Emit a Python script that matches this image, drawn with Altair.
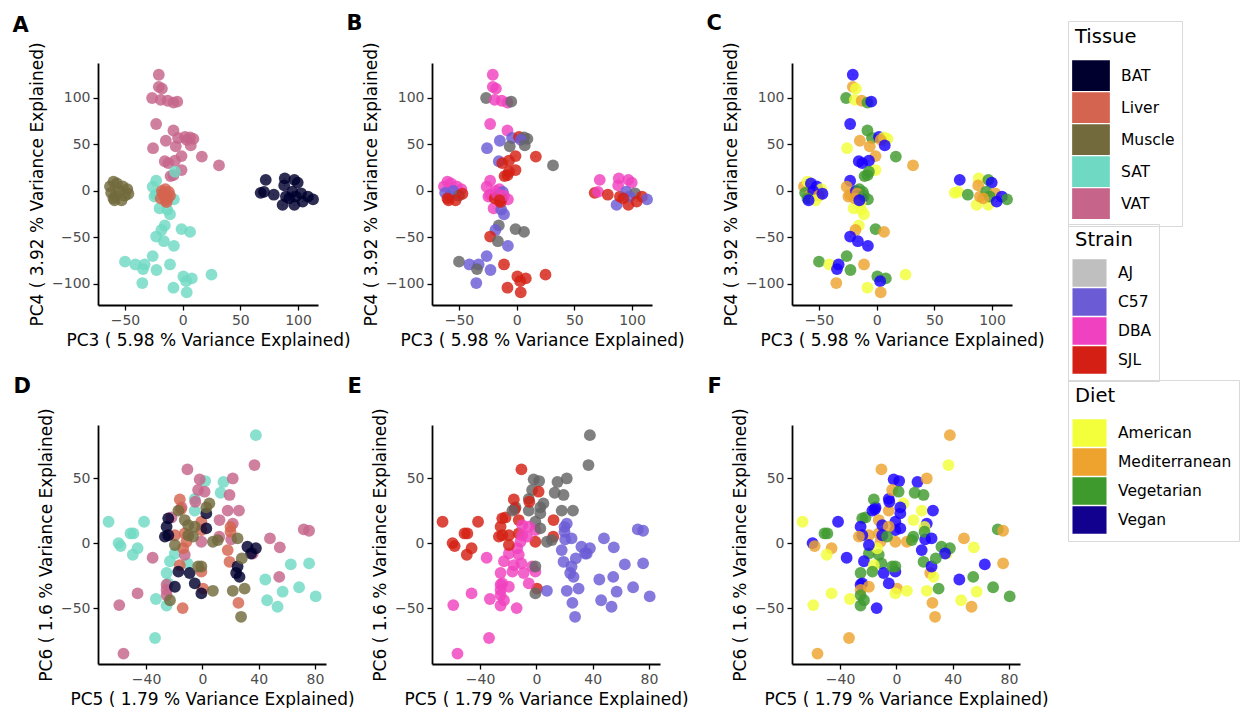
import altair as alt
import pandas as pd

FONT = "DejaVu Sans"

# ---------------- PC3 / PC4 (panels A-C) ----------------
pc3 = [
    # VAT
    -20.7, -20.7, -18, -26.5, -19, -13, -8, -4.7, -23, -8,
    -14.6, -4, 2, 6.4, 9.3, 3.5, -6, 7, -25.7, -1,
    16.6, 31.5, -15.5, -12.5, -6.7, -1, -8, -10.5,
    # SAT
    -23, -26, -23, -24.5, -7.6, -6.7, -20, -13.4, -11, -15.5,
    -18.4, -23, -16.3, -7.6, -1, 6.4, -50, -41, -33, -34.4,
    -26, -22.7, -11, -35, 0.6, 7.9, 3, 25, -8, 3.5,
    # Liver
    -18, -15, -12, -16, -13, -19, -14, -17, -11, -15,
    # Muscle
    -63, -60, -57, -52, -48, -62, -58, -55, -50, -60, -53, -47, -59,
    # BAT
    72, 67.6, 70.5, 79, 86.6, 88.5, 96.8, 99.7, 88, 89.5,
    95, 102.6, 108.5, 113, 96.8, 98, 104, 92.4,
]
pc4 = [
    125, 112, 110, 100, 98, 97, 95, 96, 72, 65,
    54, 57, 58, 57.5, 56, 55, 48, 49, 46, 37.5,
    37, 27.5, 32, 30, 32.5, 22.5, 17, 16,
    11, 4.6, -4, -6, -9, 20.7, -18.6, -20, -25, -37,
    -42, -49, -54, -59, -41, -44, -76, -79, -79, -84,
    -70, -85, -79, -99, -92, -94, -97, -90, -104, -109,
    0, 2, -1, -5, -8, -8, -12, -3, -5, -10,
    5, 10, 8, 5, 2, -2, -5, 0, -5, -8, -10, -3, -10,
    12, -2, -1, -4, -15, 13.6, 12, 9, 6, -6,
    -0.7, -2.5, -6, -9, -15, -6, -11.4, -8,
]
tissue_top = ["VAT"] * 28 + ["SAT"] * 30 + ["Liver"] * 10 + ["Muscle"] * 13 + ["BAT"] * 18
strain_top = [
    "DBA", "DBA", "DBA", "AJ", "DBA", "DBA", "DBA", "AJ", "DBA", "DBA",
    "C57", "C57", "SJL", "AJ", "AJ", "C57", "AJ", "AJ", "C57", "SJL",
    "SJL", "AJ", "C57", "SJL", "SJL", "SJL", "SJL", "SJL",
    "DBA", "DBA", "DBA", "DBA", "DBA", "SJL", "DBA", "C57", "C57", "AJ",
    "C57", "SJL", "AJ", "C57", "AJ", "AJ", "AJ", "C57", "C57", "AJ",
    "C57", "C57", "SJL", "C57", "SJL", "SJL", "SJL", "SJL", "SJL", "SJL",
    "DBA", "DBA", "C57", "C57", "SJL", "SJL", "SJL", "DBA", "DBA", "SJL",
    "DBA", "DBA", "DBA", "DBA", "DBA", "C57", "C57", "C57", "AJ", "SJL", "SJL", "SJL", "SJL",
    "DBA", "SJL", "DBA", "SJL", "C57", "DBA", "DBA", "DBA", "DBA", "SJL",
    "C57", "AJ", "SJL", "C57", "SJL", "C57", "SJL", "SJL",
]
diet_top = [
    "Vegan", "Mediterranean", "American", "Vegetarian", "American", "Mediterranean", "Vegetarian", "Vegan", "Vegan", "Vegetarian",
    "Mediterranean", "Vegetarian", "Vegan", "American", "American", "Mediterranean", "Mediterranean", "Vegan", "American", "Mediterranean",
    "Vegetarian", "Mediterranean", "Vegan", "Vegan", "Vegan", "American", "Vegetarian", "Vegetarian",
    "Vegan", "Mediterranean", "Mediterranean", "Mediterranean", "Vegetarian", "Vegetarian", "American", "American", "American", "American",
    "Mediterranean", "Vegan", "Vegan", "Vegan", "Vegetarian", "Mediterranean", "Vegetarian", "American", "Vegan", "Vegan",
    "Vegetarian", "Vegetarian", "Mediterranean", "Mediterranean", "Vegetarian", "Vegetarian", "Vegan", "American", "American", "Mediterranean",
    "Vegan", "Vegetarian", "Vegetarian", "Vegan", "Vegan", "Mediterranean", "American", "Mediterranean", "Vegetarian", "Vegan",
    "Mediterranean", "American", "Vegan", "Vegan", "American", "Vegetarian", "Mediterranean", "Vegan", "Mediterranean", "Vegetarian", "American", "Vegan", "Vegan",
    "Vegan", "American", "American", "Vegetarian", "American", "American", "Vegetarian", "Vegan", "Mediterranean", "Mediterranean",
    "Vegetarian", "Mediterranean", "Vegan", "Vegetarian", "American", "Vegetarian", "Vegan", "Mediterranean",
]

# ---------------- PC5 / PC6 (panels D-F) ----------------
pc5 = [
    # SAT
    38, -66.6, -41.4, -51, -49, -59.5, -58, -46, -49.4, 2,
    15, 13, -5.4, -5.4, -19.5, -23, -25.4, -24.2, -10.6, -33,
    -25.4, -33.6, 44.7, 46, 57, 53.4, 62.8, 68.7, 75.8, 80.5,
    # VAT
    37, -10.6, -1.9, 21.6, -3, 1.6, 19.3, -5, 18, 26,
    -21.9, 12.2, 21.6, 72, 75.8, 48, 55, 35.8, 12, 20.5,
    -0.7, -35.3, -12.5, 54.6, -46, -25.4, -25.4, -25.4, -59, -56, -14.8,
    # Liver
    -16, -15.3, -0.7, -0.7, -12.5, -11.3, -13.6, -16, 20, 20,
    18, 19.3, -0.7, 0.5, 25.6, -14, -19.5,
    # BAT
    -24.2, -25.4, -24.2, -26.6, 2.8, 2.8, 32, 38, 34.6, 24,
    26.4, -17, -9, -19.5, -5.4, -0.7, 25,
    # Muscle
    5, 2.8, -12.5, -10, -5.4, -10, -6.6, -19.5, 7.5, 11,
    25, -3, -0.7, 7.5, 21.6, 30, 27.5, 28, -23, -17,
]
pc6 = [
    83, 16.4, 16.4, 7.4, 7.4, 0, -2.3, -4, -9, 47.7,
    47, 38.7, 34, 25, -8, -14, -23, -31, -15.6, -43,
    -48, -73, -28, -44, -37.4, -49, -16.4, -34, -15.6, -41,
    60, 56.7, 49, 49.7, 40.8, 39.5, 37, 31.8, 25, 25,
    19.7, 17.7, 15, 10.5, 9.5, 3.6, -3.3, -8, 4.9, 2.8,
    1, -11.3, -9, -26, -38.7, -32, -36, -40, -47.7, -85, 27.4,
    33.6, 26, 16.4, 10, 7.4, 1, -4, -17, 12.5, 8.7,
    -5.4, -14.4, -22, -35, -46, -50, 6,
    19, 12.6, 6, 5, 22.8, 11.3, -2.8, -4, -8, -23,
    -26, -22, -23, -33.6, -31, -38.7, -18,
    30.5, 27.4, 17.7, 13.8, 12.6, 6, 5, -1.5, 1, 2.3,
    3.6, -18, -18, -36.7, -36.7, -35, -56.7, -11.8, -44, 25,
]
tissue_bot = ["SAT"] * 30 + ["VAT"] * 31 + ["Liver"] * 17 + ["BAT"] * 17 + ["Muscle"] * 20
strain_bot = [
    "AJ", "SJL", "SJL", "SJL", "SJL", "SJL", "SJL", "SJL", "SJL", "AJ",
    "AJ", "AJ", "AJ", "AJ", "DBA", "DBA", "DBA", "DBA", "DBA", "DBA",
    "DBA", "DBA", "C57", "C57", "C57", "C57", "C57", "C57", "C57", "C57",
    "AJ", "SJL", "AJ", "AJ", "AJ", "SJL", "AJ", "SJL", "AJ", "AJ",
    "SJL", "SJL", "C57", "C57", "C57", "C57", "C57", "C57", "SJL", "C57",
    "SJL", "DBA", "DBA", "C57", "DBA", "DBA", "DBA", "DBA", "DBA", "DBA", "AJ",
    "SJL", "SJL", "AJ", "DBA", "SJL", "DBA", "DBA", "DBA", "C57", "C57",
    "C57", "C57", "DBA", "SJL", "C57", "DBA", "SJL",
    "SJL", "SJL", "SJL", "SJL", "AJ", "AJ", "C57", "C57", "C57", "C57",
    "C57", "DBA", "DBA", "DBA", "DBA", "AJ", "C57",
    "AJ", "AJ", "SJL", "DBA", "DBA", "DBA", "DBA", "SJL", "AJ", "AJ",
    "C57", "DBA", "AJ", "C57", "C57", "C57", "C57", "C57", "DBA", "AJ",
]
diet_bot = [
    "Mediterranean", "American", "Vegan", "Vegetarian", "Vegetarian", "Vegan", "Mediterranean", "Mediterranean", "American", "Vegan",
    "Vegan", "Vegetarian", "Vegan", "Mediterranean", "Vegetarian", "Vegan", "Vegetarian", "Vegan", "Vegetarian", "American",
    "Vegetarian", "Mediterranean", "Vegan", "American", "American", "Mediterranean", "Vegan", "Vegetarian", "Mediterranean", "Vegetarian",
    "American", "Mediterranean", "Vegan", "Mediterranean", "Mediterranean", "Vegetarian", "Vegetarian", "Vegan", "American", "Vegan",
    "Vegetarian", "American", "Vegan", "Vegetarian", "Mediterranean", "Mediterranean", "American", "American", "Vegetarian", "Vegan",
    "Mediterranean", "Vegan", "Vegetarian", "Vegetarian", "American", "Vegan", "Mediterranean", "Vegetarian", "American", "Mediterranean", "Vegan",
    "Vegetarian", "Vegan", "Vegan", "Vegan", "Mediterranean", "Mediterranean", "American", "American", "American", "Vegetarian",
    "Vegan", "Vegetarian", "Vegan", "Mediterranean", "Mediterranean", "Vegan", "Mediterranean",
    "Vegetarian", "Vegan", "Vegan", "Mediterranean", "Vegan", "Vegan", "Vegetarian", "Vegetarian", "Vegan", "Mediterranean",
    "American", "Vegetarian", "Vegan", "Mediterranean", "Vegan", "American", "Vegan",
    "American", "Vegan", "Mediterranean", "Vegan", "Mediterranean", "Vegan", "Vegetarian", "Vegan", "Mediterranean", "Vegetarian",
    "Vegan", "Vegetarian", "Vegetarian", "American", "American", "Vegetarian", "Mediterranean", "Vegetarian", "Vegetarian", "Vegan",
]

# ---------------- categories & colours ----------------
tissue_levels = ["BAT", "Liver", "Muscle", "SAT", "VAT"]
tissue_colors = ["#00002E", "#D4644F", "#726A3D", "#6FD9C3", "#C6648A"]
strain_levels = ["AJ", "C57", "DBA", "SJL"]
strain_legend_colors = ["#BFBFBF", "#6B5CD6", "#F042C0", "#D42014"]
strain_point_colors = ["#646464", "#6B5CD6", "#F042C0", "#D42014"]
diet_levels = ["American", "Mediterranean", "Vegetarian", "Vegan"]
diet_legend_colors = ["#F2FF3A", "#EDA32E", "#3F9A2E", "#12008F"]
diet_point_colors = ["#F2FF3A", "#EDA32E", "#3F9A2E", "#1800FF"]

top_x_ticks = [-50, 0, 50, 100]
top_y_ticks = [-100, -50, 0, 50, 100]
bot_x_ticks = [-40, 0, 40, 80]
bot_y_ticks = [-50, 0, 50]

top_df = pd.DataFrame({"pc3": pc3, "pc4": pc4, "Tissue": tissue_top,
                       "Strain": strain_top, "Diet": diet_top})
bot_df = pd.DataFrame({"pc5": pc5, "pc6": pc6, "Tissue": tissue_bot,
                       "Strain": strain_bot, "Diet": diet_bot})

# legend key: a rectangle 1.19 times wider than high
RECT = "M-1.19,-0.97H1.19V0.97H-1.19Z"
PT_SIZE = 140
PT_OPACITY = 0.82


def axis(title, vals):
    return alt.Axis(title=title, values=vals, grid=False, domainColor="black",
                    domainWidth=1.8, tickColor="black", tickWidth=1.3, tickSize=5,
                    labelColor="#4D4D4D", labelFontSize=14, labelFont=FONT,
                    titleFont=FONT, titleFontSize=17, titleFontWeight="normal",
                    titleColor="black", labelPadding=3, titlePadding=5,
                    labelFlush=False, labelOverlap=False)


def legend(title, lx, ly, size, tpad):
    return alt.Legend(title=title, orient="none", legendX=lx, legendY=ly,
                      symbolType=RECT, symbolSize=size, symbolOpacity=1,
                      symbolStrokeWidth=0, titleFontSize=19.5, titleFont=FONT,
                      titleFontWeight="normal", titleColor="black",
                      labelFontSize=15.5, labelFont=FONT, labelColor="black",
                      labelOffset=14, rowPadding=0, titlePadding=tpad, padding=7,
                      strokeColor="#D9D9D9")


def encodings(xf, yf, xdom, ydom, xrng, xvals, yvals, xtitle, ytitle):
    ex = alt.X(f"{xf}:Q", scale=alt.Scale(domain=xdom, range=[0, xrng], nice=False, zero=False),
               axis=axis(xtitle, xvals))
    ey = alt.Y(f"{yf}:Q", scale=alt.Scale(domain=ydom, nice=False, zero=False),
               axis=axis(ytitle, yvals))
    return ex, ey


def title(letter, dx, off):
    return alt.Title(letter, anchor="start", fontSize=21, fontWeight="bold", font=FONT,
                     color="black", dx=dx, offset=off, frame="bounds")


T_X = "PC3 ( 5.98 % Variance Explained)"
T_Y = "PC4 ( 3.92 % Variance Explained)"
B_X = "PC5 ( 1.79 % Variance Explained)"
B_Y = "PC6 ( 1.6 % Variance Explained)"
TXD = [-73.4, 117.3]
TYD = [-122.6, 137.6]
BXD = [-74.1, 87.8]
BYD = [-93.0, 90.8]

ex, ey = encodings("pc3", "pc4", TXD, TYD, 220, top_x_ticks, top_y_ticks, T_X, T_Y)


def top_panel(field, levels, pcolors, lcolors, leg, letter, width, off):
    # first layer: tiny marks that carry the legend colours; second layer: the visible points
    leg_layer = alt.Chart(top_df).mark_circle(size=1, opacity=1).encode(
        x=ex, y=ey,
        color=alt.Color(f"{field}:N", scale=alt.Scale(domain=levels, range=lcolors), legend=leg),
    )
    pts = alt.Chart(top_df).mark_circle(size=PT_SIZE, opacity=PT_OPACITY).encode(
        x=ex, y=ey,
        fill=alt.Fill(f"{field}:N", scale=alt.Scale(domain=levels, range=pcolors), legend=None),
    )
    return alt.layer(leg_layer, pts, title=title(letter, -16, off)).properties(width=width, height=242)


A = top_panel("Tissue", tissue_levels, tissue_colors, tissue_colors,
              legend("Tissue", 970, -42, 1005, 12), "A", 228, -15)
B = top_panel("Strain", strain_levels, strain_point_colors, strain_legend_colors,
              legend("Strain", 636, 161, 818, 8), "B", 254, 8)
C = top_panel("Diet", diet_levels, diet_point_colors, diet_legend_colors,
              legend("Diet", 276, 317, 818, 12), "C", 228, 8)

ex2, ey2 = encodings("pc5", "pc6", BXD, BYD, 228, bot_x_ticks, bot_y_ticks, B_X, B_Y)


def bottom(field, levels, colors, letter, width):
    return alt.Chart(bot_df, title=title(letter, -24, 11)).mark_circle(size=PT_SIZE, opacity=PT_OPACITY).encode(
        x=ex2, y=ey2,
        color=alt.Color(f"{field}:N", scale=alt.Scale(domain=levels, range=colors), legend=None),
    ).properties(width=width, height=239)


D = bottom("Tissue", tissue_levels, tissue_colors, "D", 228)
E = bottom("Strain", strain_levels, strain_point_colors, "E", 254)
F = bottom("Diet", diet_levels, diet_point_colors, "F", 228)

chart = alt.concat(A, B, C, D, E, F, columns=3, bounds="flush",
                   spacing={"row": 120, "column": 106}).resolve_scale(
    color="independent", fill="independent", x="independent", y="independent"
).properties(
    padding={"left": 12, "top": 12, "right": 0, "bottom": 0},
    background="white",
).configure_view(stroke="transparent")

chart.save("out.html", embed_options={"renderer": "svg", "actions": False})
